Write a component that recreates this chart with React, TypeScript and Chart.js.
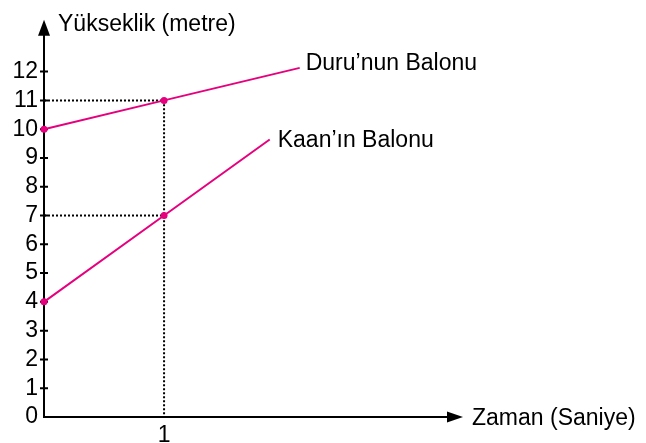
import React, { useEffect, useRef } from "react";
import { Chart, registerables } from "chart.js";

Chart.register(...registerables);

// ---- data ----
const yTickValues = [0, 1, 2, 3, 4, 5, 6, 7, 8, 9, 10, 11, 12];
const xTickValues = [1];
const duruX = [0, 1, 2.13];
const duruY = [10, 11, 12.13];
const kaanX = [0, 1, 1.88];
const kaanY = [4, 7, 9.64];
const guide11X = [0, 1, 1];
const guide11Y = [11, 11, 0];
const guide7X = [0, 1];
const guide7Y = [7, 7];
const seriesNames = ["Duru\u2019nun Balonu", "Kaan\u2019\u0131n Balonu"];
const yTitle = "Y\u00fckseklik (metre)";
const xTitle = "Zaman (Saniye)";

const PINK = "#e6007e";
const FONT_FAMILY = "Arial, 'Liberation Sans', Helvetica, sans-serif";
const FONT_SIZE = 23;
const labelOffsets = [
  [6, 2],
  [8, 7],
];

const toPts = (xs: number[], ys: number[]) => xs.map((x, i) => ({ x, y: ys[i] }));

const axesPlugin = {
  id: "customAxes",
  beforeDatasetsDraw(chart: any) {
    const { ctx, chartArea, scales } = chart;
    const xs = scales.x;
    const ys = scales.y;
    const x0 = xs.getPixelForValue(0);
    const y0 = ys.getPixelForValue(0);
    const top = chartArea.top;
    const right = chartArea.right;
    ctx.save();
    ctx.strokeStyle = "#000";
    ctx.fillStyle = "#000";
    ctx.lineWidth = 2;
    ctx.beginPath();
    ctx.moveTo(x0, y0);
    ctx.lineTo(x0, top + 4);
    ctx.moveTo(x0 - 1, y0);
    ctx.lineTo(right - 4, y0);
    ctx.stroke();
    // tick marks
    ctx.beginPath();
    yTickValues.forEach((v) => {
      if (v === 0) return;
      const py = ys.getPixelForValue(v);
      ctx.moveTo(x0 - 4, py);
      ctx.lineTo(x0 + 4, py);
    });
    ctx.stroke();
    // arrow heads
    ctx.beginPath();
    ctx.moveTo(x0, top);
    ctx.lineTo(x0 - 6, top + 16);
    ctx.lineTo(x0 + 6, top + 16);
    ctx.closePath();
    ctx.fill();
    ctx.beginPath();
    ctx.moveTo(right, y0);
    ctx.lineTo(right - 16, y0 - 5.5);
    ctx.lineTo(right - 16, y0 + 5.5);
    ctx.closePath();
    ctx.fill();
    ctx.restore();
  },
  afterDatasetsDraw(chart: any) {
    const { ctx, chartArea, scales } = chart;
    const xs = scales.x;
    const ys = scales.y;
    const x0 = xs.getPixelForValue(0);
    const y0 = ys.getPixelForValue(0);
    ctx.save();
    ctx.fillStyle = "#000";
    ctx.font = `${FONT_SIZE}px ${FONT_FAMILY}`;
    ctx.textAlign = "left";
    ctx.textBaseline = "alphabetic";
    ctx.fillText(yTitle, x0 + 14, chartArea.top + 11.5);
    ctx.fillText(xTitle, chartArea.right + 9, y0 + 8);
    const ends = [
      [duruX[duruX.length - 1], duruY[duruY.length - 1]],
      [kaanX[kaanX.length - 1], kaanY[kaanY.length - 1]],
    ];
    ends.forEach((e, i) => {
      const px = xs.getPixelForValue(e[0]);
      const py = ys.getPixelForValue(e[1]);
      ctx.fillText(seriesNames[i], px + labelOffsets[i][0], py + labelOffsets[i][1]);
    });
    ctx.restore();
  },
};

export default function App() {
  const ref = useRef<HTMLCanvasElement | null>(null);
  useEffect(() => {
    document.body.style.margin = "0";
    const canvas = ref.current;
    if (!canvas) return;
    const tickFont = { family: FONT_FAMILY, size: FONT_SIZE };
    const chart = new Chart(canvas, {
      type: "line",
      data: {
        datasets: [
          {
            label: seriesNames[0],
            data: toPts(duruX, duruY),
            borderColor: PINK,
            backgroundColor: PINK,
            borderWidth: 2,
            pointRadius: [3.5, 3.5, 0],
            pointBorderWidth: 0,
            pointBackgroundColor: PINK,
            order: 1,
            clip: false,
          },
          {
            label: seriesNames[1],
            data: toPts(kaanX, kaanY),
            borderColor: PINK,
            backgroundColor: PINK,
            borderWidth: 2,
            pointRadius: [3.5, 3.5, 0],
            pointBorderWidth: 0,
            pointBackgroundColor: PINK,
            order: 1,
            clip: false,
          },
          {
            label: "guide11",
            data: toPts(guide11X, guide11Y),
            borderColor: "#000",
            borderWidth: 2,
            borderDash: [2, 2],
            pointRadius: 0,
            order: 2,
            clip: false,
          },
          {
            label: "guide7",
            data: toPts(guide7X, guide7Y),
            borderColor: "#000",
            borderWidth: 2,
            borderDash: [2, 2],
            pointRadius: 0,
            order: 2,
            clip: false,
          },
        ],
      },
      options: {
        responsive: false,
        animation: false,
        events: [],
        layout: { padding: { top: 12, right: 183, left: 0, bottom: 0 } },
        plugins: { legend: { display: false }, tooltip: { enabled: false } },
        scales: {
          x: {
            type: "linear",
            min: 0,
            max: 3.49,
            grid: { display: false, drawTicks: false },
            border: { display: false },
            ticks: { color: "#000", font: tickFont, padding: 5, maxRotation: 0 },
            afterBuildTicks: (scale: any) => {
              scale.ticks = xTickValues.map((v) => ({ value: v }));
            },
            afterFit: (scale: any) => {
              scale.height = 26;
            },
          },
          y: {
            type: "linear",
            min: 0,
            max: 13.8,
            grid: { display: false, drawTicks: false },
            border: { display: false },
            ticks: { color: "#000", font: tickFont, padding: 6 },
            afterBuildTicks: (scale: any) => {
              scale.ticks = yTickValues.map((v) => ({ value: v }));
            },
            afterFit: (scale: any) => {
              scale.width = 44;
            },
          },
        },
      } as any,
      plugins: [axesPlugin],
    });
    return () => chart.destroy();
  }, []);
  return (
    <div style={{ width: 646, height: 443, background: "#fff" }}>
      <canvas ref={ref} width={646} height={443} style={{ display: "block" }} />
    </div>
  );
}
